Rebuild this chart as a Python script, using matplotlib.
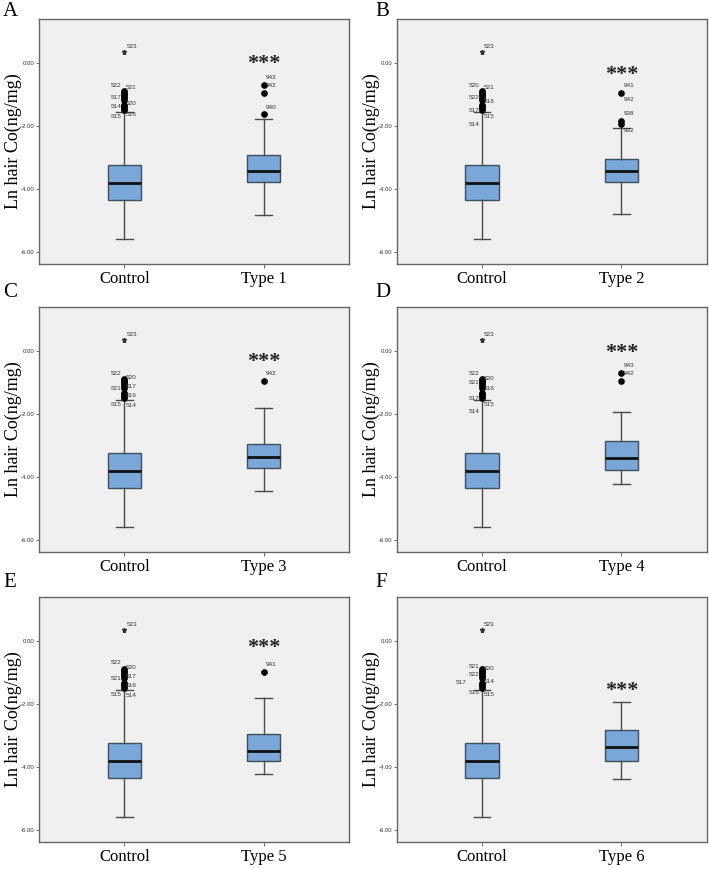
import matplotlib
matplotlib.use("Agg")
import matplotlib.pyplot as plt

# ---------------- data ----------------
panel_letters = ["A", "B", "C", "D", "E", "F"]
group_names = ["Type 1", "Type 2", "Type 3", "Type 4", "Type 5", "Type 6"]

# control group (same in every panel): whislo, q1, med, q3, whishi
control_box = [-5.58, -4.35, -3.80, -3.24, -1.58]
control_fliers = [-0.91, -0.96, -1.01, -1.06, -1.12, -1.18, -1.33, -1.39, -1.45, -1.51]
control_extreme = 0.32
control_extreme_id = "523"

# type groups: whislo, q1, med, q3, whishi
type_boxes = [
    [-4.82, -3.78, -3.45, -2.92, -1.80],
    [-4.81, -3.78, -3.45, -3.06, -2.06],
    [-4.46, -3.73, -3.38, -2.95, -1.83],
    [-4.24, -3.77, -3.41, -2.86, -1.95],
    [-4.24, -3.82, -3.51, -2.97, -1.83],
    [-4.38, -3.82, -3.37, -2.83, -1.93],
]
type_fliers = [
    [-0.71, -0.97, -1.63],
    [-0.97, -1.85, -1.95],
    [-0.95],
    [-0.70, -0.95],
    [-0.99],
    [],
]

# outlier case labels: (id, value, side)
control_labels = [
    [("522", -0.72, "l"), ("521", -0.79, "r"), ("517", -1.12, "l"), ("514", -1.38, "l"),
     ("520", -1.30, "r"), ("515", -1.70, "l"), ("516", -1.66, "r")],
    [("520", -0.72, "l"), ("521", -0.79, "r"), ("522", -1.12, "l"), ("516", -1.22, "r"),
     ("517", -1.52, "l"), ("515", -1.70, "r"), ("514", -1.95, "l")],
    [("522", -0.72, "l"), ("520", -0.85, "r"), ("521", -1.20, "l"), ("517", -1.15, "r"),
     ("516", -1.42, "r"), ("515", -1.70, "l"), ("514", -1.74, "r")],
    [("522", -0.72, "l"), ("520", -0.89, "r"), ("521", -1.00, "l"), ("516", -1.21, "r"),
     ("517", -1.53, "l"), ("515", -1.70, "r"), ("514", -1.94, "l")],
    [("522", -0.71, "l"), ("520", -0.85, "r"), ("521", -1.20, "l"), ("517", -1.15, "r"),
     ("516", -1.43, "r"), ("515", -1.70, "l"), ("514", -1.73, "r")],
    [("521", -0.81, "l"), ("520", -0.88, "r"), ("522", -1.08, "l"), ("514", -1.30, "r"),
     ("517", -1.32, "L"), ("516", -1.64, "l"), ("515", -1.70, "r")],
]
type_labels = [
    [("943", -0.48), ("942", -0.74), ("940", -1.41)],
    [("941", -0.74), ("942", -1.17), ("938", -1.60), ("932", -2.16)],
    [("942", -0.74)],
    [("943", -0.47), ("942", -0.74)],
    [("941", -0.75)],
    [],
]
sig_text = "***"
sig_y = [0.0, -0.35, -0.33, -0.04, -0.19, -1.54]

y_ticks = [0.0, -2.0, -4.0, -6.0]
y_label = "Ln hair Co(ng/mg)"

# ---------------- style ----------------
W, H = 709, 869
fig = plt.figure(figsize=(W / 100, H / 100), dpi=100)
fig.patch.set_facecolor("white")

col_left = [39.3, 397.0]
ax_w = 309.5
row_top = [19.0, 307.0, 597.0]
ax_h = 245.0

box_fill = "#7AA7D7"
box_edge = "#3F4F60"
line_col = "#4A4A4A"
serif = ["Liberation Serif", "DejaVu Serif"]
sans = ["Liberation Sans", "DejaVu Sans"]

for i in range(6):
    r, c = divmod(i, 2)
    left = col_left[c] / W
    bottom = 1 - (row_top[r] + ax_h) / H
    ax = fig.add_axes([left, bottom, ax_w / W, ax_h / H])
    ax.set_facecolor("#F0F0F0")

    stats = []
    for name, vals, fl in [("Control", control_box, control_fliers),
                           (group_names[i], type_boxes[i], type_fliers[i])]:
        stats.append(dict(label=name, whislo=vals[0], q1=vals[1], med=vals[2],
                          q3=vals[3], whishi=vals[4], fliers=fl))
    ax.bxp(stats, positions=[1, 2], widths=0.24, capwidths=0.12, patch_artist=True,
           showfliers=True,
           boxprops=dict(facecolor=box_fill, edgecolor=box_edge, linewidth=1.0),
           medianprops=dict(color="#111111", linewidth=2.0),
           whiskerprops=dict(color=line_col, linewidth=1.0),
           capprops=dict(color=line_col, linewidth=1.0),
           flierprops=dict(marker="o", markersize=3.8, markerfacecolor="black",
                           markeredgecolor="black", linestyle="none"))

    # extreme value (asterisk marker)
    ax.plot([1], [control_extreme], marker="*", markersize=3.6, color="#333333",
            linestyle="none")
    ax.annotate(control_extreme_id, xy=(1, control_extreme), xytext=(1.5, 4.5),
                textcoords="offset points", fontsize=4.6, family=sans,
                color="#333333", ha="left", va="center")

    # control outlier labels
    side_off = {"l": -2.0, "r": 1.2, "L": -11.0}
    for lab, val, side in control_labels[i]:
        ax.annotate(lab, xy=(1, val), xytext=(side_off[side], 0),
                    textcoords="offset points", fontsize=4.6, family=sans,
                    color="#333333", ha=("right" if side in "lL" else "left"),
                    va="center")
    for lab, val in type_labels[i]:
        ax.annotate(lab, xy=(2, val), xytext=(1.5, 0),
                    textcoords="offset points", fontsize=4.6, family=sans,
                    color="#333333", ha="left", va="center")

    # significance stars
    ax.annotate(sig_text, xy=(2, sig_y[i]), xytext=(0, -1), textcoords="offset points",
                ha="center", va="center", fontsize=16, fontweight="bold",
                family=serif, color="#222222")

    ax.set_xlim(0.39, 2.61)
    ax.set_ylim(-6.38, 1.38)
    ax.set_yticks(y_ticks)
    ax.set_yticklabels([f"{t:.2f}" for t in y_ticks], fontsize=4.3,
                       family=sans, color="#333333")
    ax.set_xticks([1, 2])
    ax.set_xticklabels(["Control", group_names[i]], fontsize=12, family=serif)
    ax.tick_params(axis="y", length=2.5, width=0.6, pad=1, color="#555555")
    ax.tick_params(axis="x", length=3, width=0.6, pad=2, color="#555555")
    ax.set_ylabel(y_label, fontsize=13, family=serif, labelpad=-1)
    for s in ax.spines.values():
        s.set_color("#666666")
        s.set_linewidth(1.0)

    lx = [3, 375][c]
    fig.text(lx / W, 1 - (16 + [0, 281, 571][r]) / H, panel_letters[i],
             fontsize=15, family=serif, ha="left", va="baseline")

fig.savefig("out.png", dpi=100, facecolor="white")
